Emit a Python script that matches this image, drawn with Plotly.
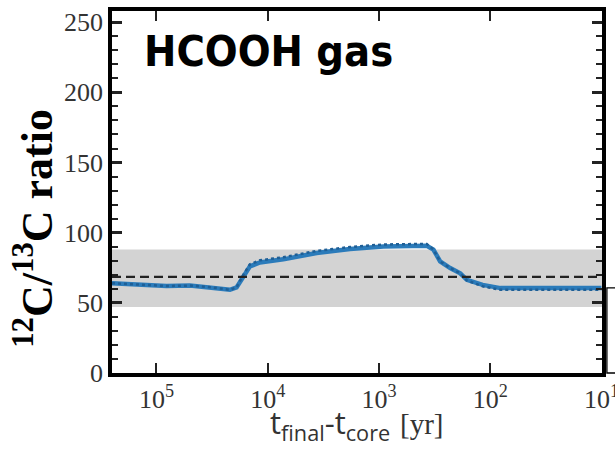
import plotly.graph_objects as go

# Data: time before core formation (yr) and 12C/13C ratio of HCOOH gas
t_yr = [251189, 158489, 81283, 50119, 31623, 21878, 19055, 16596, 14454, 11749,
        7244, 3631, 1820, 912, 501, 372, 324, 282, 229, 186, 162, 117, 81, 32, 10]
ratio = [64, 63, 62, 62.3, 61, 59.3, 61, 69, 76, 78.8,
         81, 85.5, 88.3, 90.2, 90.8, 90.7, 88, 79.5, 74.8, 71, 66.4, 62.8, 60.5, 60.5, 60.5]
ratio_dotted = [64, 63, 62, 62.3, 61, 59.3, 61, 70, 77.5, 80.3,
                82.5, 87, 89.8, 91.6, 92.2, 92, 88, 79.5, 74.8, 71, 66, 61.8, 59.3, 59.3, 59.3]

ism_ratio = 68.5
band_low, band_high = 47, 88

x_tickvals = [1e5, 1e4, 1e3, 1e2, 1e1]
x_ticktext = ["10<sup>5</sup>", "10<sup>4</sup>", "10<sup>3</sup>", "10<sup>2</sup>", "10<sup>1</sup>"]
y_tickvals = [0, 50, 100, 150, 200, 250]

SERIF = "Liberation Serif"

fig = go.Figure()

fig.add_shape(type="rect", xref="paper", yref="y", x0=0, x1=1, y0=band_low, y1=band_high,
              fillcolor="#d3d3d3", line_width=0, layer="below")
fig.add_shape(type="line", xref="paper", yref="y", x0=0, x1=1, y0=ism_ratio, y1=ism_ratio,
              line=dict(color="#222222", width=2.2, dash="9px,5px"))

fig.add_trace(go.Scatter(x=t_yr, y=ratio, mode="lines",
                         line=dict(color="#2b7bba", width=4.5), showlegend=False))
fig.add_trace(go.Scatter(x=t_yr, y=ratio_dotted, mode="lines",
                         line=dict(color="#1f5f96", width=2.5, dash="dot"), showlegend=False))

# HCOOH gas label
fig.add_annotation(xref="paper", yref="paper", x=0.062, y=0.89, xanchor="left", yanchor="middle",
                   text="<b>HCOOH gas</b>", showarrow=False,
                   font=dict(family="DejaVu Sans Condensed", size=43, color="black"))

# y-axis title
fig.add_annotation(xref="paper", yref="paper", x=-0.16, y=0.40, xanchor="center", yanchor="middle",
                   text="<b><sup>12</sup>C/<sup>13</sup>C ratio</b>", showarrow=False, textangle=-90,
                   font=dict(family=SERIF, size=44, color="black"))

# x-axis title (two parts: sans time label, serif unit)
fig.add_annotation(xref="paper", yref="paper", x=0.571, y=-0.141, xanchor="right", yanchor="middle",
                   text="t<sub>final</sub>-t<sub>core</sub>",
                   showarrow=False, font=dict(family="Open Sans", size=31, color="#333333"))
fig.add_annotation(xref="paper", yref="paper", x=0.584, y=-0.141, xanchor="left", yanchor="middle",
                   text="[yr]",
                   showarrow=False, font=dict(family=SERIF, size=29, color="#333333"))

# right edge artifact (neighbouring panel border)
fig.add_shape(type="path", xref="paper", yref="paper",
              path="M 1.04 0.235 L 1.01 0.235 L 1.01 0.0 L 1.04 0.0",
              line=dict(color="black", width=1.3))

fig.update_xaxes(type="log", range=[5.4, 0.995], tickvals=x_tickvals, ticktext=x_ticktext,
                 ticks="inside", ticklen=10, tickwidth=2, tickcolor="#222222",
                 showline=True, linewidth=3.5, linecolor="black", mirror="allticks",
                 showgrid=False, zeroline=False, ticklabeloverflow="allow", automargin=False,
                 tickfont=dict(family=SERIF, size=26, color="#333333"))
fig.update_yaxes(range=[0, 258], tickvals=y_tickvals, automargin=False,
                 ticks="inside", ticklen=10, tickwidth=2.5, tickcolor="#222222",
                 minor=dict(dtick=10, ticks="inside", ticklen=6, tickwidth=2, tickcolor="#222222"),
                 showline=True, linewidth=3.5, linecolor="black", mirror="allticks",
                 showgrid=False, zeroline=False,
                 tickfont=dict(family=SERIF, size=26, color="#333333"))

fig.update_layout(width=615, height=456, margin=dict(l=112, r=13, t=11, b=83, autoexpand=False),
                  plot_bgcolor="white", paper_bgcolor="white",
                  font=dict(family=SERIF))

fig.write_html("out.html")
